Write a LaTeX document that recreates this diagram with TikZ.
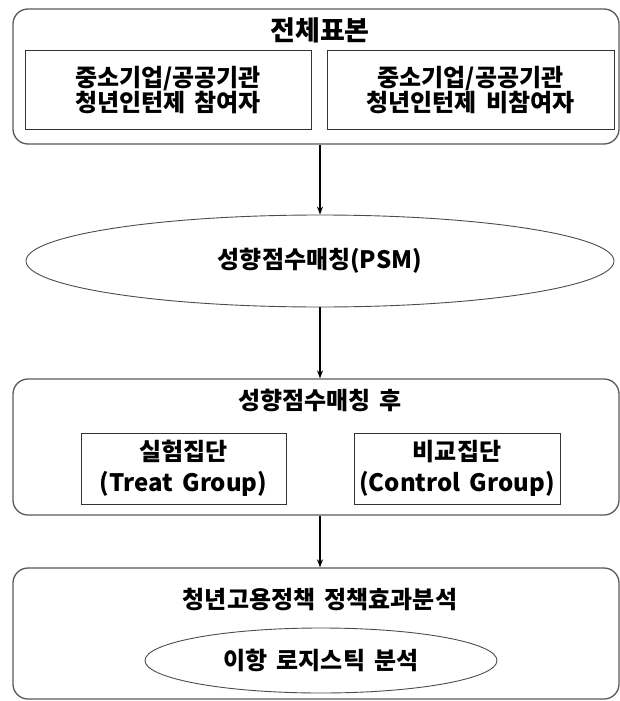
\documentclass[tikz,border=0pt]{standalone}
\usepackage{fontspec}
\usepackage{xcolor}
\usepackage{tikz}
\usetikzlibrary{shapes.geometric,arrows.meta,positioning}
\newfontfamily\krfont{Noto Sans CJK KR}[WordSpace=1.7]

\tikzset{
    groupbox/.style={
        draw=black!65,
        line width=1.3pt,
        rounded corners=15pt,
        inner sep=0pt
        },
    subbox/.style={
        draw=black!80,
        line width=1pt,
        inner sep=0pt,
        align=center,
        font=\krfont\bfseries\fontsize{24}{24}\selectfont
        },
    stagebox/.style={
        draw=black!70,
        ellipse,
        line width=0.9pt,
        inner sep=0pt,
        font=\krfont\bfseries\fontsize{24}{24}\selectfont
        },
    headtext/.style={
        inner sep=0pt,
        font=\krfont\bfseries\fontsize{24}{24}\selectfont
        },
    flow/.style={
        -{Stealth[length=8pt,width=6pt]},
        line width=1.6pt
        }
}

\begin{document}
\begin{tikzpicture}[x=1pt,y=-1pt]
                \useasboundingbox (0,0) rectangle (620,701);

                % whole sample
                \node[
                    groupbox,
                    minimum width=606pt,
                    minimum height=135pt
                    ] (sample) at (316,76.5) {};
                \node[
                    headtext,
                    font=\krfont\bfseries\fontsize{27}{27}\selectfont
                    ] (sampletitle) at (320,30) {전체표본};
                \node[
                    subbox,
                    minimum width=286pt,
                    minimum height=78pt
                    ] (joined) at (168,90) {중소기업/공공기관\\[-1pt]청년인턴제 참여자};
                \node[
                    subbox,
                    minimum width=287pt,
                    minimum height=78pt
                    ] (notjoined) at (470.5,90) {중소기업/공공기관\\[-1pt]청년인턴제 비참여자};

                % matching
                \node[
                    stagebox,
                    minimum width=588pt,
                    minimum height=92pt
                    ] (psm) at (320,261) {성향점수매칭(PSM)};

                % after matching
                \node[
                    groupbox,
                    minimum width=606pt,
                    minimum height=136pt
                    ] (matched) at (316,447) {};
                \node[headtext] (matchedtitle) at (320,400) {성향점수매칭 후};
                \node[
                    subbox,
                    minimum width=205pt,
                    minimum height=71pt
                    ] (treat) at (183.5,468.5) {실험집단\\[7pt](Treat Group)};
                \node[
                    subbox,
                    minimum width=206pt,
                    minimum height=71pt
                    ] (control) at (457,468.5) {비교집단\\[7pt](Control Group)};

                % policy effect
                \node[
                    groupbox,
                    minimum width=606pt,
                    minimum height=131pt
                    ] (effect) at (316,633.5) {};
                \node[headtext] (effecttitle) at (320,600) {청년고용정책 정책효과분석};
                \node[
                    stagebox,
                    minimum width=352pt,
                    minimum height=65pt
                    ] (logit) at (321,660.5) {이항 로지스틱 분석};

                \draw[flow] (psm.north |- sample.south) -- (psm.north);
                \draw[flow] (psm.south) -- (psm.south |- matched.north);
                \draw[flow] (psm.south |- matched.south) -- (psm.south |- effect.north);

            \end{tikzpicture}
\end{document}
